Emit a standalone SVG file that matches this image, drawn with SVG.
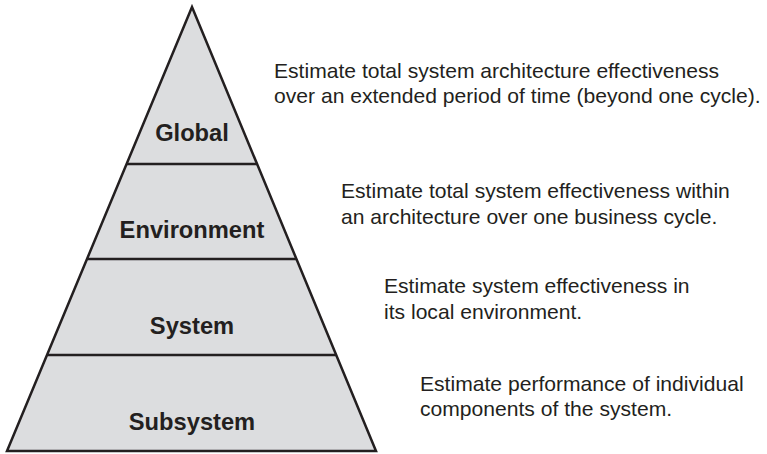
<svg xmlns="http://www.w3.org/2000/svg" width="767" height="454" viewBox="0 0 767 454">
<style>
.lvl{font-family:"Liberation Sans",Arial,sans-serif;font-weight:bold;font-size:23.7px;fill:#231f20;text-anchor:middle}
.desc{font-family:"Liberation Sans",Arial,sans-serif;font-size:21.1px;fill:#231f20}
.edge{stroke:#231f20;stroke-width:2.5;fill:none}
</style>
<rect width="767" height="454" fill="#ffffff"/>
<g id="pyramid">
<polygon points="192,7 376,451 7,451" fill="#dcdddf" stroke="#231f20" stroke-width="2.5" stroke-linejoin="miter"/>
</g>
<g id="connectors">
<line class="edge" x1="126.7" y1="164" x2="257.5" y2="164"/>
<line class="edge" x1="87.2" y1="259" x2="296.8" y2="259"/>
<line class="edge" x1="47.3" y1="355" x2="336.5" y2="355"/>
</g>
<g id="global"><text class="lvl" x="192" y="141">Global</text></g>
<g id="environment"><text class="lvl" x="192" y="238">Environment</text></g>
<g id="system"><text class="lvl" x="192" y="334">System</text></g>
<g id="subsystem"><text class="lvl" x="192" y="430">Subsystem</text></g>
<g id="desc-global"><text class="desc" x="274" y="78">Estimate total system architecture effectiveness</text><text class="desc" x="274" y="103">over an extended period of time (beyond one cycle).</text></g>
<g id="desc-environment"><text class="desc" x="341" y="198">Estimate total system effectiveness within</text><text class="desc" x="341" y="224">an architecture over one business cycle.</text></g>
<g id="desc-system"><text class="desc" x="384" y="293">Estimate system effectiveness in</text><text class="desc" x="384" y="319">its local environment.</text></g>
<g id="desc-subsystem"><text class="desc" x="420" y="391">Estimate performance of individual</text><text class="desc" x="420" y="416">components of the system.</text></g>
</svg>
